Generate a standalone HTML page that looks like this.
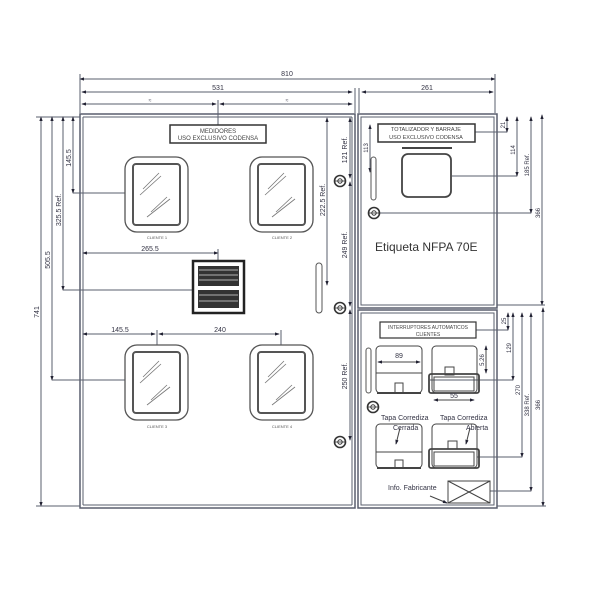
<!DOCTYPE html>
<html><head><meta charset="utf-8"><style>
html,body{margin:0;padding:0;background:#fff;}
svg{display:block;font-family:"Liberation Sans",sans-serif;}
</style></head><body>
<svg width="600" height="600" viewBox="0 0 600 600" xmlns="http://www.w3.org/2000/svg">
<defs>
<marker id="a" viewBox="0 0 6 6" refX="5" refY="3" markerWidth="5" markerHeight="5" orient="auto-start-reverse"><path d="M0,1 L6,3 L0,5 z" fill="#223"/></marker>
<g id="win">
 <rect x="0" y="0" width="63" height="75" rx="12" fill="none" stroke="#555" stroke-width="1.3"/>
 <rect x="8" y="7" width="47" height="61" rx="3" fill="none" stroke="#555" stroke-width="2"/>
 <line x1="18" y1="32" x2="34" y2="16" stroke="#777" stroke-width="0.8"/>
 <line x1="15" y1="38" x2="36" y2="19" stroke="#777" stroke-width="0.8"/>
 <line x1="26" y1="55" x2="42" y2="40" stroke="#777" stroke-width="0.8"/>
 <line x1="22" y1="60" x2="45" y2="42" stroke="#777" stroke-width="0.8"/>
</g>
<g id="scr"><circle r="5.5" fill="none" stroke="#333" stroke-width="1.6"/><circle r="2.2" fill="none" stroke="#333" stroke-width="1"/><line x1="-6" y1="0" x2="6" y2="0" stroke="#333" stroke-width="0.8"/></g>
</defs>
<g stroke="#5a5f6e" fill="none" stroke-width="1">
<!-- top dims -->
<line x1="80" y1="79" x2="495" y2="79" marker-start="url(#a)" marker-end="url(#a)"/>
<line x1="82" y1="92" x2="352" y2="92" marker-start="url(#a)" marker-end="url(#a)"/>
<line x1="362" y1="92" x2="493" y2="92" marker-start="url(#a)" marker-end="url(#a)"/>
<line x1="82" y1="104" x2="216" y2="104" marker-start="url(#a)" marker-end="url(#a)"/>
<line x1="220" y1="104" x2="352" y2="104" marker-start="url(#a)" marker-end="url(#a)"/>
<line x1="80" y1="74" x2="80" y2="113"/><line x1="495" y1="74" x2="495" y2="113"/>
<line x1="355" y1="88" x2="355" y2="113"/><line x1="359" y1="88" x2="359" y2="113"/>
<line x1="218" y1="100" x2="218" y2="125"/>
<!-- main box -->
<rect x="80" y="114" width="275" height="394" stroke-width="1.5"/>
<line x1="83" y1="117" x2="83" y2="505"/><line x1="83" y1="505" x2="352" y2="505"/><line x1="352" y1="117" x2="352" y2="505"/>
<line x1="83" y1="117" x2="352" y2="117"/>
<!-- right panels -->
<rect x="358" y="114" width="139" height="194" stroke-width="1.5"/>
<rect x="361" y="117" width="133" height="188"/>
<rect x="358" y="310" width="139" height="198" stroke-width="1.5"/>
<rect x="361" y="313" width="133" height="192"/>
<!-- left dims -->
<line x1="41" y1="117" x2="41" y2="506" marker-start="url(#a)" marker-end="url(#a)"/>
<line x1="36" y1="117" x2="80" y2="117"/><line x1="36" y1="506" x2="80" y2="506"/>
<line x1="52" y1="117" x2="52" y2="380" marker-start="url(#a)" marker-end="url(#a)"/>
<line x1="52" y1="380" x2="125" y2="380"/>
<line x1="63" y1="117" x2="63" y2="290" marker-start="url(#a)" marker-end="url(#a)"/>
<line x1="63" y1="290" x2="193" y2="290"/>
<line x1="73" y1="117" x2="73" y2="193" marker-start="url(#a)" marker-end="url(#a)"/>
<line x1="73" y1="193" x2="125" y2="193"/>
<line x1="83" y1="253" x2="218" y2="253" marker-start="url(#a)" marker-end="url(#a)"/>
<line x1="218" y1="249" x2="218" y2="261"/>
<line x1="83" y1="334" x2="155" y2="334" marker-start="url(#a)" marker-end="url(#a)"/>
<line x1="159" y1="334" x2="279" y2="334" marker-start="url(#a)" marker-end="url(#a)"/>
<line x1="157" y1="330" x2="157" y2="345"/><line x1="281" y1="330" x2="281" y2="345"/>
<!-- right side of left section dims -->
<line x1="327" y1="118" x2="327" y2="285" marker-start="url(#a)" marker-end="url(#a)"/>
<line x1="350" y1="118" x2="350" y2="178" marker-start="url(#a)" marker-end="url(#a)"/>
<line x1="350" y1="182" x2="350" y2="306" marker-start="url(#a)" marker-end="url(#a)"/>
<line x1="350" y1="310" x2="350" y2="440" marker-start="url(#a)" marker-end="url(#a)"/>
<!-- right panel top dims -->
<line x1="370" y1="125" x2="370" y2="172" marker-start="url(#a)" marker-end="url(#a)"/>
<line x1="475" y1="132" x2="507" y2="132"/>
<line x1="507" y1="117" x2="507" y2="132" marker-start="url(#a)" marker-end="url(#a)"/>
<line x1="452" y1="176" x2="517" y2="176"/>
<line x1="517" y1="117" x2="517" y2="176" marker-start="url(#a)" marker-end="url(#a)"/>
<line x1="378" y1="213" x2="531" y2="213"/>
<line x1="531" y1="117" x2="531" y2="213" marker-start="url(#a)" marker-end="url(#a)"/>
<line x1="542" y1="115" x2="542" y2="305" marker-start="url(#a)" marker-end="url(#a)"/>
<line x1="497" y1="305" x2="545" y2="305"/>
<!-- bottom right dims -->
<line x1="475" y1="330" x2="508" y2="330"/>
<line x1="508" y1="313" x2="508" y2="330" marker-start="url(#a)" marker-end="url(#a)"/>
<line x1="430" y1="380" x2="513" y2="380"/>
<line x1="513" y1="313" x2="513" y2="380" marker-start="url(#a)" marker-end="url(#a)"/>
<line x1="522" y1="313" x2="522" y2="457" marker-start="url(#a)" marker-end="url(#a)"/>
<line x1="477" y1="457" x2="522" y2="457"/>
<line x1="531" y1="313" x2="531" y2="491" marker-start="url(#a)" marker-end="url(#a)"/>
<line x1="490" y1="491" x2="531" y2="491"/>
<line x1="543" y1="308" x2="543" y2="506" marker-start="url(#a)" marker-end="url(#a)"/>
<line x1="497" y1="506" x2="546" y2="506"/>
</g>
<!-- windows -->
<use href="#win" x="125" y="157"/><use href="#win" x="250" y="157"/>
<use href="#win" x="125" y="345"/><use href="#win" x="250" y="345"/>
<g font-size="4" fill="#555" text-anchor="middle">
<text x="157" y="239">CLIENTE 1</text><text x="282" y="239">CLIENTE 2</text>
<text x="157" y="428">CLIENTE 3</text><text x="282" y="428">CLIENTE 4</text>
</g>
<!-- labels -->
<rect x="170" y="125" width="96" height="18" fill="#fff" stroke="#333" stroke-width="1.5"/>
<text x="218" y="133" font-size="6" text-anchor="middle" fill="#444">MEDIDORES</text>
<text x="218" y="140" font-size="6" text-anchor="middle" fill="#444">USO EXCLUSIVO CODENSA</text>
<rect x="193" y="261" width="51" height="52" fill="#fff" stroke="#222" stroke-width="2.5"/>
<g fill="#333"><rect x="198" y="266" width="41" height="20"/><rect x="198" y="290" width="41" height="18"/></g>
<g stroke="#ddd" stroke-width="0.7"><line x1="199" y1="270" x2="238" y2="270"/><line x1="199" y1="275" x2="238" y2="275"/><line x1="199" y1="280" x2="238" y2="280"/><line x1="199" y1="295" x2="238" y2="295"/><line x1="199" y1="301" x2="238" y2="301"/></g>
<!-- screws and slots -->
<use href="#scr" x="340" y="181"/><use href="#scr" x="340" y="308"/><use href="#scr" x="340" y="442"/>
<use href="#scr" x="374" y="213"/><use href="#scr" x="373" y="407"/>
<rect x="316" y="263" width="6" height="50" rx="3" fill="none" stroke="#555"/>
<rect x="371" y="157" width="5" height="43" rx="2.5" fill="none" stroke="#555"/>
<rect x="366" y="348" width="5" height="45" rx="2.5" fill="none" stroke="#555"/>
<!-- top-right panel -->
<rect x="378" y="124" width="97" height="18" fill="#fff" stroke="#333" stroke-width="1.5"/>
<text x="426" y="131" font-size="5.5" text-anchor="middle" fill="#444">TOTALIZADOR Y BARRAJE</text>
<text x="426" y="139" font-size="5.5" text-anchor="middle" fill="#444">USO EXCLUSIVO CODENSA</text>
<line x1="402" y1="148" x2="452" y2="148" stroke="#444" stroke-width="2"/>
<rect x="402" y="154" width="49" height="43" rx="6" fill="none" stroke="#444" stroke-width="1.8"/>
<text x="375" y="251" font-size="12" fill="#333">Etiqueta NFPA 70E</text>
<!-- bottom-right panel -->
<rect x="380" y="322" width="96" height="16" fill="#fff" stroke="#333" stroke-width="1.2"/>
<text x="428" y="329" font-size="5" text-anchor="middle" fill="#444">INTERRUPTORES AUTOMATICOS</text>
<text x="428" y="336" font-size="5" text-anchor="middle" fill="#444">CLIENTES</text>
<g fill="none" stroke="#444">
<rect x="376" y="346" width="46" height="47" rx="4"/><line x1="376" y1="373" x2="422" y2="373"/><line x1="377" y1="393" x2="421" y2="393" stroke-width="2"/>
<rect x="395" y="383" width="8" height="10"/>
<rect x="432" y="346" width="45" height="47" rx="4"/><rect x="445" y="367" width="9" height="8"/>
<rect x="429" y="374" width="50" height="19" rx="2" stroke-width="1.8"/><rect x="434" y="377" width="40" height="14"/>
<line x1="378" y1="362" x2="420" y2="362" marker-start="url(#a)" marker-end="url(#a)"/>
<line x1="434" y1="400" x2="474" y2="400" marker-start="url(#a)" marker-end="url(#a)"/>
<line x1="486" y1="346" x2="486" y2="373" marker-start="url(#a)" marker-end="url(#a)"/>
<rect x="376" y="424" width="46" height="44" rx="4"/><line x1="376" y1="452" x2="422" y2="452"/><line x1="377" y1="468" x2="421" y2="468" stroke-width="2"/>
<rect x="395" y="460" width="8" height="8"/>
<rect x="432" y="424" width="45" height="44" rx="4"/><rect x="448" y="441" width="9" height="8"/>
<rect x="429" y="449" width="50" height="19" rx="2" stroke-width="1.8"/><rect x="434" y="452" width="40" height="14"/>
<rect x="448" y="481" width="42" height="22"/><line x1="448" y1="481" x2="490" y2="503"/><line x1="490" y1="481" x2="448" y2="503"/>
<line x1="400" y1="428" x2="396" y2="444" marker-end="url(#a)"/>
<line x1="470" y1="428" x2="466" y2="444" marker-end="url(#a)"/>
<line x1="430" y1="496" x2="447" y2="503" marker-end="url(#a)"/>
</g>
<g font-size="7" fill="#334">
<text x="399" y="358" text-anchor="middle">89</text>
<text x="454" y="398" text-anchor="middle">55</text>
<text x="381" y="420">Tapa Corrediza</text>
<text x="393" y="430">Cerrada</text>
<text x="440" y="420">Tapa Corrediza</text>
<text x="466" y="430">Abierta</text>
<text x="388" y="490">Info. Fabricante</text>
</g>
<!-- dim texts -->
<g font-size="7" fill="#334">
<text x="287" y="76" text-anchor="middle">810</text>
<text x="218" y="90" text-anchor="middle">531</text>
<text x="427" y="90" text-anchor="middle">261</text>
<text x="150" y="102" text-anchor="middle" font-size="5">≈</text>
<text x="287" y="102" text-anchor="middle" font-size="5">≈</text>
<text x="150" y="251" text-anchor="middle">265.5</text>
<text x="120" y="332" text-anchor="middle">145.5</text>
<text x="220" y="332" text-anchor="middle">240</text>
<text transform="translate(39,312) rotate(-90)" text-anchor="middle">741</text>
<text transform="translate(50,260) rotate(-90)" text-anchor="middle">505.5</text>
<text transform="translate(61,210) rotate(-90)" text-anchor="middle">325.5 Ref.</text>
<text transform="translate(71,158) rotate(-90)" text-anchor="middle">145.5</text>
<text transform="translate(325,200) rotate(-90)" text-anchor="middle">222.5 Ref.</text>
<text transform="translate(347,150) rotate(-90)" text-anchor="middle">121 Ref.</text>
<text transform="translate(347,245) rotate(-90)" text-anchor="middle">249 Ref.</text>
<text transform="translate(347,376) rotate(-90)" text-anchor="middle">250 Ref.</text>
<text transform="translate(368,148) rotate(-90)" text-anchor="middle" font-size="6">113</text>
<text transform="translate(505,125) rotate(-90)" text-anchor="middle" font-size="6">21</text>
<text transform="translate(515,150) rotate(-90)" text-anchor="middle" font-size="6">114</text>
<text transform="translate(529,165) rotate(-90)" text-anchor="middle" font-size="6">185 Ref.</text>
<text transform="translate(540,213) rotate(-90)" text-anchor="middle" font-size="6">366</text>
<text transform="translate(506,321) rotate(-90)" text-anchor="middle" font-size="6">25</text>
<text transform="translate(511,348) rotate(-90)" text-anchor="middle" font-size="6">129</text>
<text transform="translate(520,390) rotate(-90)" text-anchor="middle" font-size="6">270</text>
<text transform="translate(529,405) rotate(-90)" text-anchor="middle" font-size="6">338 Ref.</text>
<text transform="translate(540,405) rotate(-90)" text-anchor="middle" font-size="6">366</text>
<text transform="translate(484,360) rotate(-90)" text-anchor="middle" font-size="6">5.26</text>
</g>
</svg>
</body></html>
